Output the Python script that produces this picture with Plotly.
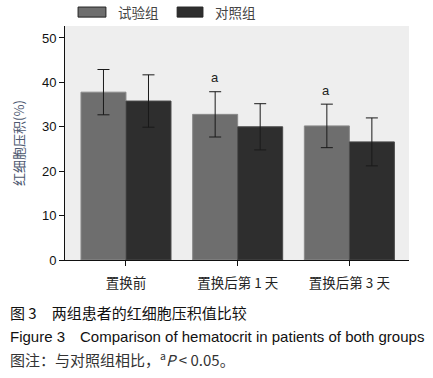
import plotly.graph_objects as go

categories = ["置换前", "置换后第 1 天", "置换后第 3 天"]
trial_vals = [37.8, 32.8, 30.2]
trial_err = [5.1, 5.1, 4.9]
control_vals = [35.8, 30.0, 26.6]
control_err = [5.9, 5.2, 5.4]
sig_marks = ["", "a", "a"]
y_ticks = [0, 10, 20, 30, 40, 50]
series_names = ["试验组", "对照组"]
series_colors = ["#6e6e6e", "#2e2e2e"]
edge_colors = ["#8a8a8a", "#4a4a4a"]

CJK = "Noto Sans CJK SC, Liberation Sans, Arial"
LAT = "Liberation Sans, Arial"

fig = go.Figure()
for name, vals, errs, col, ec in zip(series_names, [trial_vals, control_vals],
                                     [trial_err, control_err], series_colors, edge_colors):
    fig.add_trace(go.Bar(
        name=name, x=categories, y=vals,
        marker=dict(color=col, line=dict(color=ec, width=1)),
        error_y=dict(type="data", array=errs, color="#1a1a1a", thickness=1, width=6),
    ))

for i, m in enumerate(sig_marks):
    if m:
        fig.add_annotation(
            x=i, y=trial_vals[i] + trial_err[i], xref="x", yref="y",
            text=m, showarrow=False, xshift=-23, yshift=14,
            font=dict(family=LAT, size=13, color="#222"),
        )

# custom legend (wide swatches as in the reference)
legend_swatch_x = [(0.038, 0.119), (0.326, 0.401)]
legend_text_x = [0.148, 0.431]
for (x0, x1), tx, name, col, ec in zip(legend_swatch_x, legend_text_x, series_names,
                                       series_colors, edge_colors):
    fig.add_shape(type="rect", xref="paper", yref="paper", x0=x0, x1=x1, y0=1.038, y1=1.081,
                  fillcolor=col, line=dict(color="#222", width=1))
    fig.add_annotation(x=tx, y=1.058, xref="paper", yref="paper", xanchor="left", yanchor="middle",
                       text=name, showarrow=False, font=dict(family=CJK, size=13.5, color="#444"))

captions = [
    ("图 3　两组患者的红细胞压积值比较", CJK, 15, "#111", -0.226),
    ("Figure 3　Comparison of hematocrit in patients of both groups", LAT, 15, "#111", -0.325),
    ("图注：与对照组相比，<sup>a</sup><i>P</i> < 0.05。", CJK, 15, "#333", -0.425),
]
for text, fam, size, col, yy in captions:
    fig.add_annotation(
        x=-0.166, y=yy, xref="paper", yref="paper", xanchor="left", yanchor="middle",
        text=text, showarrow=False, font=dict(family=fam, size=size, color=col),
    )

fig.update_layout(
    width=433, height=378,
    margin=dict(l=65, r=24, t=26, b=118, autoexpand=False),
    paper_bgcolor="white", plot_bgcolor="#eeeeee",
    barmode="group", bargap=0.194, bargroupgap=0,
    showlegend=False,
    xaxis=dict(
        range=[-0.546, 2.534], showgrid=False, showline=True, linecolor="#111", linewidth=1,
        ticks="outside", ticklen=5, tickcolor="#111", automargin=False, ticklabelstandoff=6,
        tickfont=dict(family=CJK, size=13.5, color="#222"),
    ),
    yaxis=dict(
        range=[0, 52.7], tickvals=y_ticks, showgrid=False, showline=True, linecolor="#111",
        linewidth=1, ticks="outside", ticklen=5, tickcolor="#111", zeroline=False, automargin=False,
        tickfont=dict(family=LAT, size=13, color="#111"),
        title=dict(text="红细胞压积(%)", font=dict(family=CJK, size=13, color="#4d5870"), standoff=14),
    ),
)

fig.write_html("out.html", config={"displayModeBar": False},
               post_script="document.body.style.margin='0';")
